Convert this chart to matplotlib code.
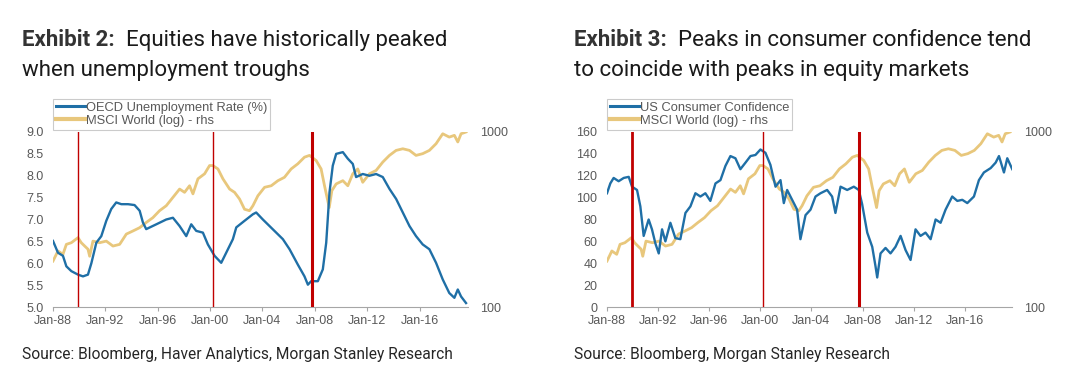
import numpy as np
import matplotlib.pyplot as plt

# OECD unemployment rate (%), decimal years
unemp_years = [1988.00, 1988.38, 1988.76, 1989.02, 1989.40, 1989.91, 1990.29, 1990.67, 1990.93,
               1991.31, 1991.69, 1992.07, 1992.45, 1992.83, 1993.22, 1993.73, 1994.23, 1994.62,
               1994.87, 1995.12, 1995.89, 1996.65, 1997.16, 1997.67, 1998.18, 1998.56, 1998.94,
               1999.45, 1999.83, 2000.34, 2000.85, 2001.23, 2001.74, 2002.00, 2002.63, 2003.27,
               2003.52, 2004.03, 2004.54, 2005.05, 2005.56, 2006.07, 2006.70, 2007.21, 2007.47,
               2007.72, 2008.23, 2008.61, 2008.87, 2009.12, 2009.37, 2009.63, 2010.14, 2010.52,
               2010.90, 2011.15, 2011.66, 2012.17, 2012.68, 2013.19, 2013.70, 2014.21, 2014.72,
               2015.23, 2015.73, 2016.24, 2016.75, 2017.26, 2017.77, 2018.27, 2018.66, 2018.92,
               2019.17, 2019.55]
unemp = [6.51, 6.24, 6.17, 5.93, 5.82, 5.74, 5.70, 5.74, 6.00,
         6.47, 6.62, 6.97, 7.24, 7.39, 7.35, 7.35, 7.33, 7.20,
         6.93, 6.78, 6.89, 7.00, 7.04, 6.85, 6.62, 6.89, 6.74,
         6.70, 6.43, 6.17, 6.01, 6.24, 6.55, 6.82, 6.97, 7.12,
         7.16, 7.00, 6.85, 6.70, 6.55, 6.32, 5.97, 5.70, 5.51,
         5.59, 5.59, 5.86, 6.47, 7.62, 8.23, 8.50, 8.54, 8.39,
         8.27, 7.97, 8.04, 8.00, 8.04, 7.97, 7.70, 7.47, 7.16,
         6.85, 6.62, 6.43, 6.32, 6.01, 5.63, 5.32, 5.21, 5.40,
         5.24, 5.09]

# MSCI World index level (log scale in chart)
msci_years = [1988.00, 1988.38, 1988.76, 1989.02, 1989.40, 1989.91, 1990.16, 1990.42, 1990.67,
              1990.80, 1991.05, 1991.56, 1992.07, 1992.58, 1993.09, 1993.60, 1994.11, 1994.62,
              1995.12, 1995.63, 1996.14, 1996.65, 1997.16, 1997.67, 1998.05, 1998.43, 1998.69,
              1999.07, 1999.58, 1999.96, 2000.21, 2000.60, 2000.98, 2001.49, 2001.87, 2002.25,
              2002.63, 2003.01, 2003.27, 2003.65, 2004.16, 2004.67, 2005.18, 2005.68, 2006.19,
              2006.70, 2007.21, 2007.59, 2008.10, 2008.48, 2008.74, 2009.10, 2009.30, 2009.63,
              2010.14, 2010.52, 2010.90, 2011.28, 2011.66, 2012.17, 2012.68, 2013.19, 2013.70,
              2014.21, 2014.72, 2015.23, 2015.73, 2016.24, 2016.75, 2017.26, 2017.77, 2018.27,
              2018.66, 2018.92, 2019.17, 2019.55]
msci = [183, 209, 200, 228, 233, 249, 233, 223, 214,
        195, 238, 233, 238, 223, 228, 261, 272, 284,
        304, 324, 355, 379, 423, 472, 452, 493, 443,
        540, 577, 643, 643, 615, 540, 472, 452, 414,
        362, 355, 379, 432, 483, 493, 527, 551, 615,
        658, 718, 735, 687, 615, 493, 370, 462, 505,
        527, 493, 577, 615, 516, 577, 603, 673, 735,
        785, 802, 785, 735, 752, 785, 857, 977, 935,
        957, 877, 977, 1000]

# US consumer confidence
conf_years = [1988.00, 1988.26, 1988.52, 1988.91, 1989.31, 1989.70, 1989.96, 1990.35, 1990.61,
              1990.87, 1991.26, 1991.52, 1991.79, 1992.05, 1992.31, 1992.57, 1992.96, 1993.35,
              1993.74, 1994.14, 1994.53, 1994.92, 1995.31, 1995.70, 1996.09, 1996.49, 1996.88,
              1997.27, 1997.66, 1998.05, 1998.44, 1998.84, 1999.23, 1999.62, 2000.01, 2000.40,
              2000.79, 2001.19, 2001.58, 2001.84, 2002.10, 2002.49, 2002.88, 2003.14, 2003.54,
              2003.93, 2004.32, 2004.71, 2005.23, 2005.62, 2005.88, 2006.28, 2006.80, 2007.32,
              2007.71, 2007.97, 2008.37, 2008.76, 2009.02, 2009.15, 2009.41, 2009.80, 2010.19,
              2010.58, 2010.98, 2011.37, 2011.76, 2012.15, 2012.54, 2012.93, 2013.33, 2013.72,
              2014.11, 2014.50, 2015.02, 2015.42, 2015.81, 2016.20, 2016.72, 2017.11, 2017.50,
              2018.03, 2018.42, 2018.68, 2019.07, 2019.33, 2019.72]
conf = [104, 113, 118, 115, 118, 119, 110, 107, 92,
        65, 80, 71, 58, 49, 71, 60, 77, 63,
        62, 86, 92, 104, 101, 104, 97, 113, 116,
        129, 138, 136, 126, 132, 138, 139, 144, 141,
        130, 110, 116, 95, 107, 98, 89, 62, 84,
        89, 101, 104, 107, 101, 86, 110, 107, 110,
        107, 94, 68, 55, 37, 27, 49, 54, 49,
        55, 65, 52, 43, 71, 65, 68, 62, 80,
        77, 89, 101, 97, 98, 95, 101, 116, 123,
        127, 132, 138, 123, 136, 126]

peaks = [1989.93, 2000.22, 2007.75]
tick_years = [1988, 1992, 1996, 2000, 2004, 2008, 2012, 2016]
tick_labels = ['Jan-88', 'Jan-92', 'Jan-96', 'Jan-00', 'Jan-04', 'Jan-08', 'Jan-12', 'Jan-16']

BLUE = '#1f6fa6'
GOLD = '#e8c77c'
RED = '#c00000'
GREY = '#595959'

plt.rcParams['font.family'] = ['Liberation Sans', 'DejaVu Sans']

fig = plt.figure(figsize=(10.89, 3.79), dpi=100)


def panel(rect, left_x, left_y, label, ylim, yticks, yfmt, widths):
    ax = fig.add_axes(rect)
    ax2 = ax.twinx()
    ax.set_zorder(ax2.get_zorder() + 1)
    ax.patch.set_visible(False)

    ax2.plot(msci_years, msci, color=GOLD, lw=2.0)
    ax2.set_yscale('log')
    ax2.set_ylim(100, 1000)
    ax2.set_yticks([100, 1000])
    ax2.set_yticklabels(['100', '1000'])
    ax2.minorticks_off()

    ax.plot(left_x, left_y, color=BLUE, lw=1.7)
    for p, w in zip(peaks, widths):
        ax.axvline(p, color=RED, lw=w, zorder=3)
    ax.set_ylim(*ylim)
    ax.set_yticks(yticks)
    ax.set_yticklabels([yfmt.format(v) for v in yticks])
    ax.set_xlim(1988, 2019.7)
    ax.set_xticks(tick_years)
    ax.set_xticklabels(tick_labels)

    for a in (ax, ax2):
        for s in ('top', 'left', 'right'):
            a.spines[s].set_visible(False)
        a.spines['bottom'].set_color('#a6a6a6')
        a.tick_params(axis='x', length=3, color='#a6a6a6', labelsize=9, labelcolor=GREY, pad=3)
    ax.tick_params(axis='y', length=0, labelsize=9, colors=GREY, pad=7)
    ax2.tick_params(axis='y', length=0, labelsize=9, colors=GREY, pad=9)
    ax2.spines['bottom'].set_visible(False)

    h1 = plt.Line2D([], [], color=BLUE, lw=2.2)
    h2 = plt.Line2D([], [], color=GOLD, lw=3)
    leg = fig.legend([h1, h2], [label, 'MSCI World (log) - rhs'],
                     loc='upper left', bbox_to_anchor=(rect[0], 1 - 99 / 379),
                     frameon=True, fancybox=False, fontsize=9.3, handlelength=2.3,
                     handletextpad=0.05, borderpad=0.2, labelspacing=0.1,
                     borderaxespad=0)
    leg.get_frame().set_edgecolor('#bfbfbf')
    leg.get_frame().set_linewidth(0.8)
    for t in leg.get_texts():
        t.set_color(GREY)
    return ax


panel([53 / 1089, 1 - 307 / 379, 415 / 1089, 175 / 379], unemp_years, unemp,
      'OECD Unemployment Rate (%)', (5.0, 9.0), np.arange(5.0, 9.01, 0.5), '{:.1f}',
      [1.0, 1.0, 2.2])
panel([607 / 1089, 1 - 307 / 379, 405 / 1089, 175 / 379], conf_years, conf,
      'US Consumer Confidence', (0, 160), list(range(0, 161, 20)), '{:d}',
      [2.0, 1.0, 2.2])

title_font = ['Roboto', 'DejaVu Sans']


def title(x, bold, first, second):
    b = fig.text(x / 1089, 1 - 46 / 379, bold, fontsize=16, fontweight='bold',
                 family=title_font, color='#333333', va='baseline')
    # regular text follows the bold label on the same baseline
    fig.add_artist(plt.Annotation(first, xy=(1, 0), xycoords=b, xytext=(8, 0),
                                  textcoords='offset points', fontsize=16,
                                  family=title_font, color='#1a1a1a', va='bottom'))
    fig.text(x / 1089, 1 - 76 / 379, second, fontsize=16, family=title_font,
             color='#1a1a1a', va='baseline')


title(22, 'Exhibit 2:', 'Equities have historically peaked', 'when unemployment troughs')
title(574, 'Exhibit 3:', 'Peaks in consumer confidence tend',
      'to coincide with peaks in equity markets')

fig.text(22 / 1089, 1 - 359 / 379, 'Source: Bloomberg, Haver Analytics, Morgan Stanley Research',
         fontsize=11.2, family=title_font, color='#262626', va='baseline')
fig.text(574 / 1089, 1 - 359 / 379, 'Source: Bloomberg, Morgan Stanley Research',
         fontsize=11.2, family=title_font, color='#262626', va='baseline')

fig.savefig('out.png', dpi=100)
